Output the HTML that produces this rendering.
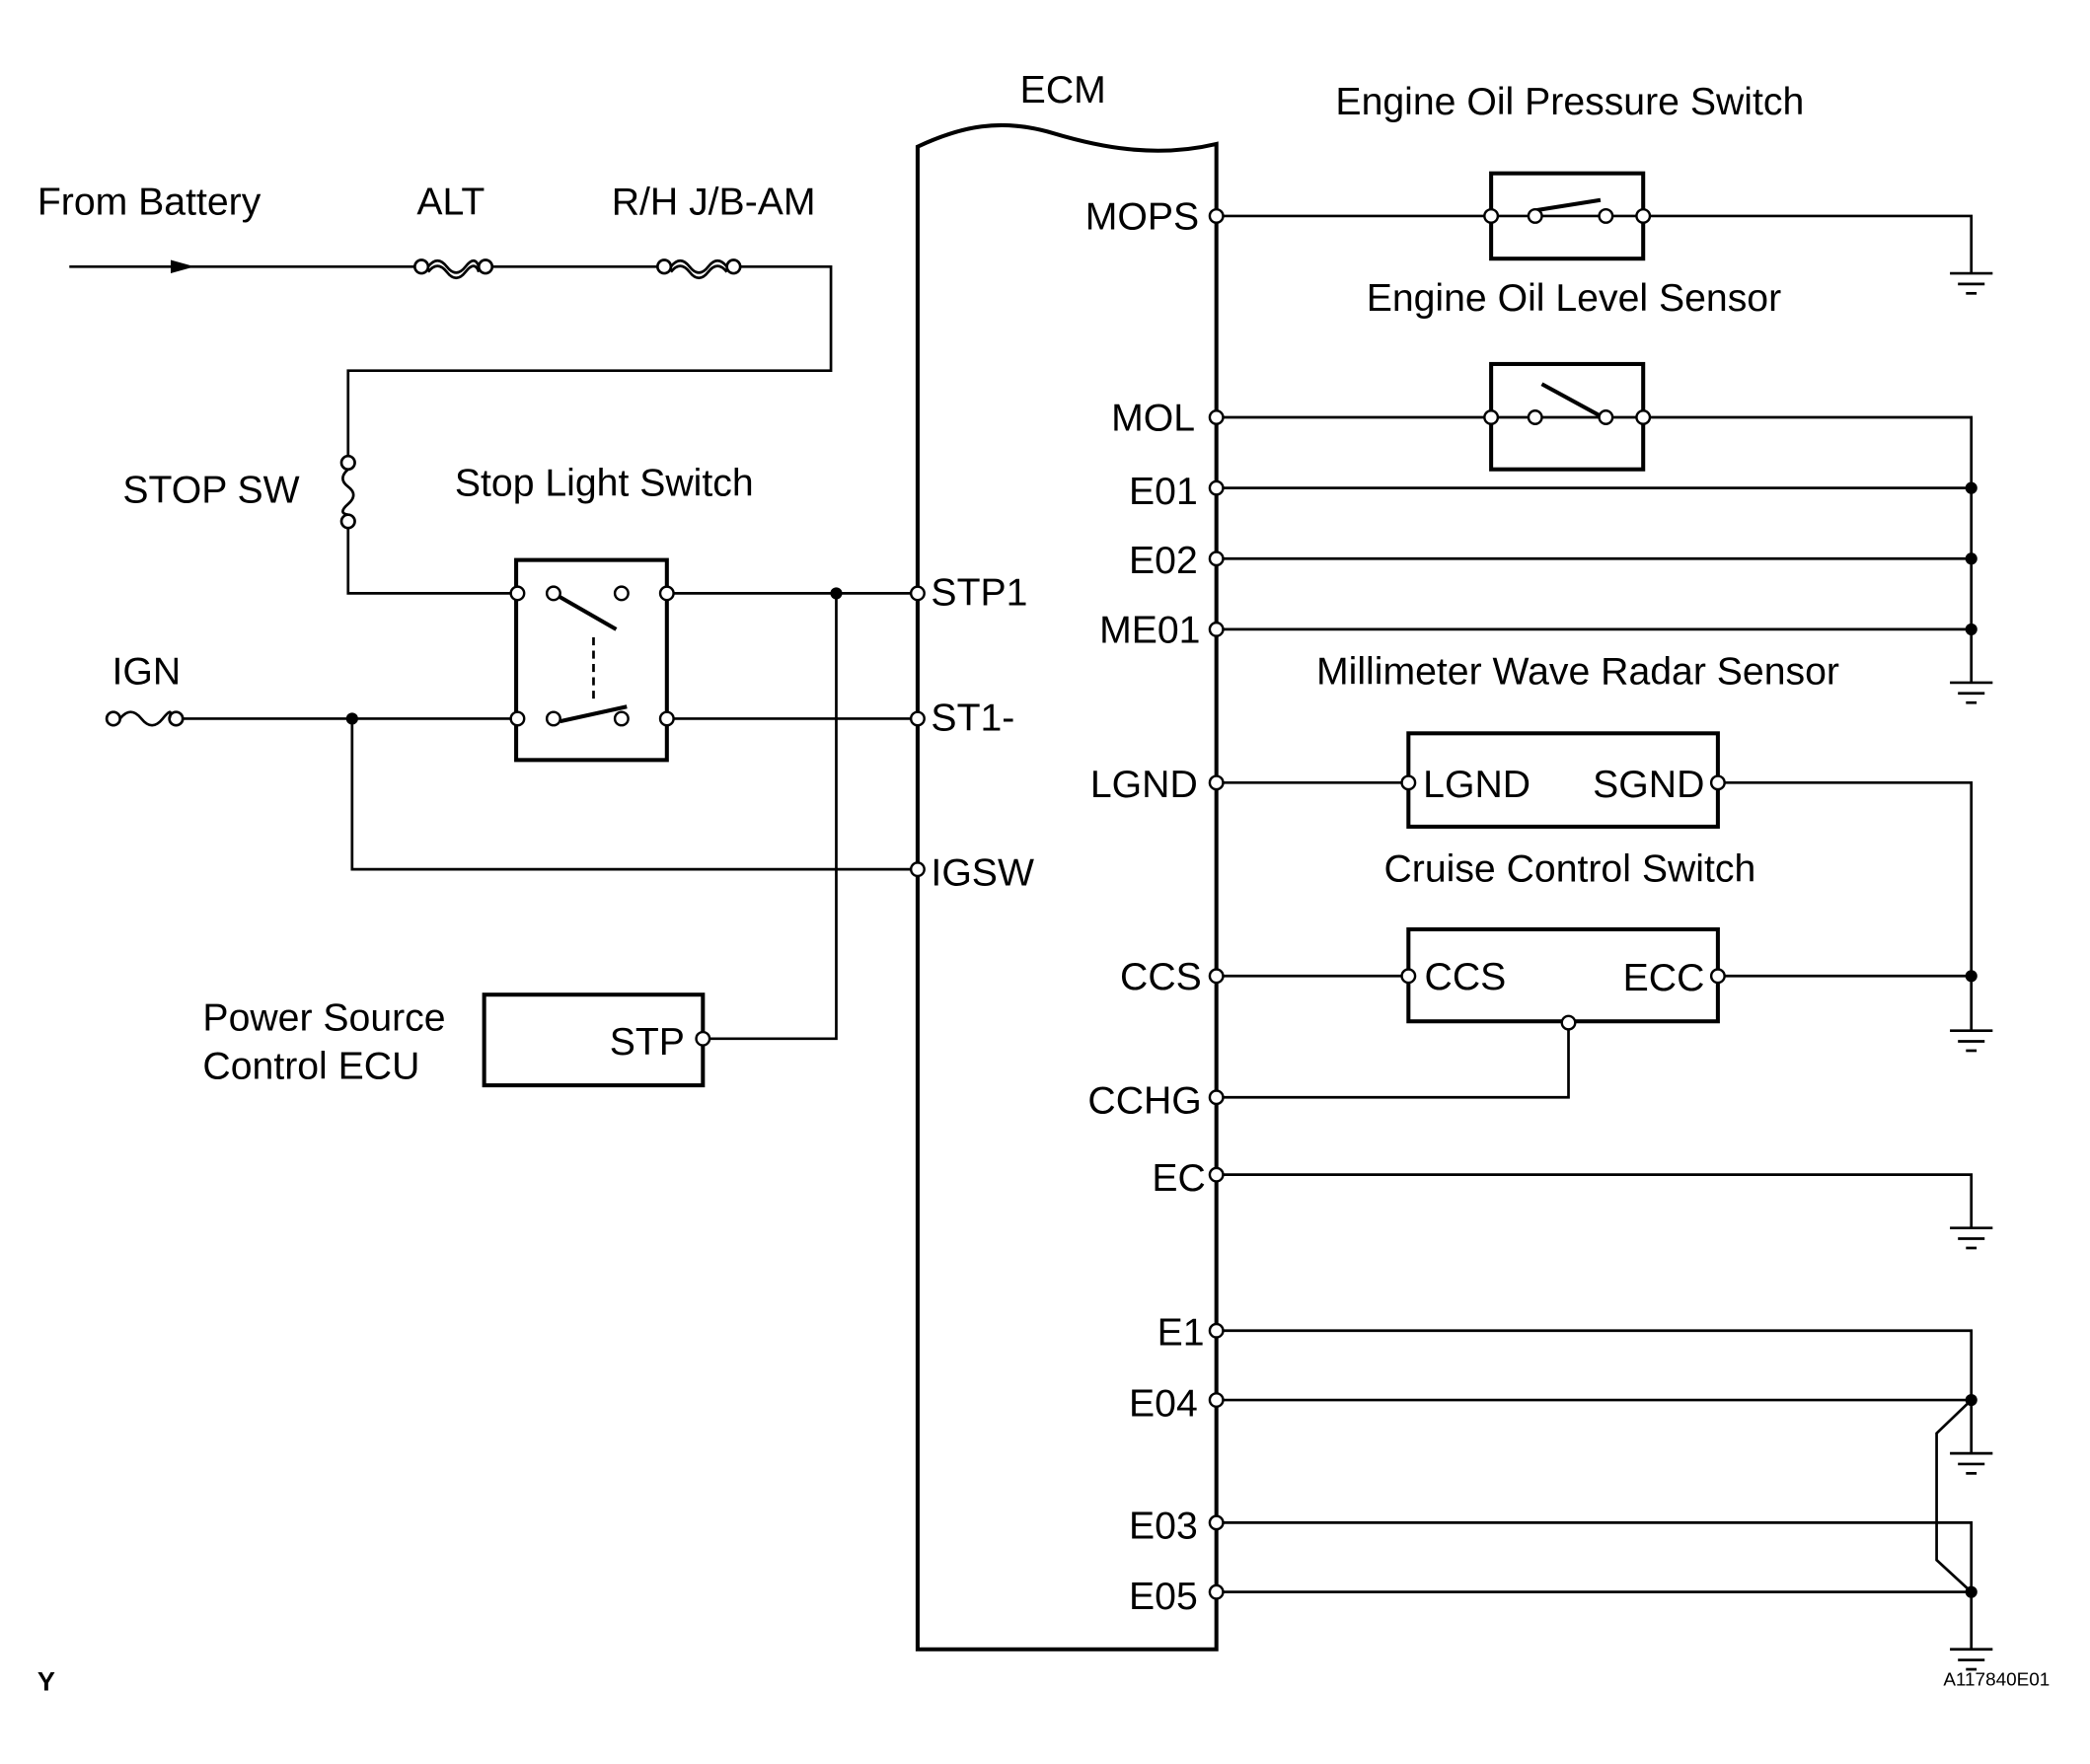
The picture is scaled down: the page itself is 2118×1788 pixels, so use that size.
<!DOCTYPE html>
<html><head><meta charset="utf-8"><style>
html,body{margin:0;padding:0;background:#fff;}
svg{display:block;}
text{font-family:"Liberation Sans",Arial,sans-serif;font-size:29px;fill:#000;}
</style></head><body>
<svg width="2118" height="1788" viewBox="0 0 1567 1323" preserveAspectRatio="none" xmlns="http://www.w3.org/2000/svg">
<defs>
<g id="gnd"><line x1="-16" y1="0" x2="16" y2="0" stroke="#000" stroke-width="2"/><line x1="-10" y1="8" x2="10" y2="8" stroke="#000" stroke-width="2"/><line x1="-4" y1="15" x2="4" y2="15" stroke="#000" stroke-width="2"/></g>
</defs>
<g fill="none" stroke="#000" stroke-width="2">
<path d="M688,1237 V110 C720,95 750,88 790,100 C830,112 870,118 912,108 V1237 Z" stroke-width="3"/>
<line x1="52" y1="200" x2="316" y2="200"/>
<line x1="364" y1="200" x2="498" y2="200"/>
<polyline points="550,200 623,200 623,278 261,278 261,342"/>
<polyline points="261,392 261,445 388,445"/>
<circle cx="316" cy="200" r="5" fill="#fff"/><circle cx="364" cy="200" r="5" fill="#fff"/>
<path d="M321,200 q7,-9 14,0 t14,0 t10,0"/><path d="M321,204 q7,-9 14,0 t14,0 t10,0"/>
<circle cx="498" cy="200" r="5" fill="#fff"/><circle cx="550" cy="200" r="5" fill="#fff"/>
<path d="M503,200 q7,-9 14,0 t14,0 t14,0"/><path d="M503,204 q7,-9 14,0 t14,0 t14,0"/>
<circle cx="261" cy="347" r="5" fill="#fff"/><circle cx="261" cy="391" r="5" fill="#fff"/>
<path d="M261,352 q-8,7 0,13 t0,13 t0,8"/>
<circle cx="85" cy="539" r="5" fill="#fff"/><circle cx="132" cy="539" r="5" fill="#fff"/>
<path d="M90,539 q8,-10 16,0 t16,0 t5,0"/>
<rect x="387" y="420" width="113" height="150" stroke-width="3"/>
<line x1="415" y1="445" x2="462" y2="472" stroke-width="3"/>
<line x1="420" y1="541" x2="470" y2="530" stroke-width="3"/>
<line x1="445" y1="478" x2="445" y2="527" stroke-dasharray="6,4"/>
<line x1="500" y1="445" x2="688" y2="445"/>
<line x1="137" y1="539" x2="388" y2="539"/>
<line x1="500" y1="539" x2="688" y2="539"/>
<polyline points="264,539 264,652 688,652"/>
<polyline points="627,445 627,779 527,779"/>
<rect x="363" y="746" width="164" height="68" stroke-width="3"/>
<polyline points="912,162 1478,162 1478,205"/>
<rect x="1118" y="130" width="114" height="64" stroke-width="3"/>
<line x1="1150" y1="158" x2="1200" y2="150" stroke-width="3"/>
<polyline points="912,313 1478,313 1478,512"/>
<rect x="1118" y="273" width="114" height="79" stroke-width="3"/>
<line x1="1156" y1="288" x2="1200" y2="312" stroke-width="3"/>
<line x1="912" y1="366" x2="1478" y2="366"/>
<line x1="912" y1="419" x2="1478" y2="419"/>
<line x1="912" y1="472" x2="1478" y2="472"/>
<line x1="912" y1="587" x2="1056" y2="587"/>
<rect x="1056" y="550" width="232" height="70" stroke-width="3"/>
<polyline points="1288,587 1478,587 1478,773"/>
<line x1="912" y1="732" x2="1056" y2="732"/>
<rect x="1056" y="697" width="232" height="69" stroke-width="3"/>
<line x1="1288" y1="732" x2="1478" y2="732"/>
<polyline points="1176,767 1176,823 912,823"/>
<polyline points="912,881 1478,881 1478,921"/>
<polyline points="912,998 1478,998 1478,1090"/>
<line x1="912" y1="1050" x2="1478" y2="1050"/>
<polyline points="1478,1050 1452,1075 1452,1170 1478,1194"/>
<polyline points="912,1142 1478,1142 1478,1237"/>
<line x1="912" y1="1194" x2="1478" y2="1194"/>
</g>
<polygon points="128,195 146,200 128,205" fill="#000"/>
<g fill="#000">
<circle cx="627" cy="445" r="4.5"/><circle cx="264" cy="539" r="4.5"/>
<circle cx="1478" cy="366" r="4.5"/><circle cx="1478" cy="419" r="4.5"/><circle cx="1478" cy="472" r="4.5"/>
<circle cx="1478" cy="732" r="4.5"/><circle cx="1478" cy="1050" r="4.5"/><circle cx="1478" cy="1194" r="4.5"/>
</g>
<g fill="#fff" stroke="#000" stroke-width="1.8">
<circle cx="388" cy="445" r="5"/><circle cx="415" cy="445" r="5"/><circle cx="466" cy="445" r="5"/><circle cx="500" cy="445" r="5"/>
<circle cx="388" cy="539" r="5"/><circle cx="415" cy="539" r="5"/><circle cx="466" cy="539" r="5"/><circle cx="500" cy="539" r="5"/>
<circle cx="688" cy="445" r="5"/><circle cx="688" cy="539" r="5"/><circle cx="688" cy="652" r="5"/>
<circle cx="527" cy="779" r="5"/>
<circle cx="912" cy="162" r="5"/><circle cx="912" cy="313" r="5"/><circle cx="912" cy="366" r="5"/><circle cx="912" cy="419" r="5"/><circle cx="912" cy="472" r="5"/><circle cx="912" cy="587" r="5"/><circle cx="912" cy="732" r="5"/><circle cx="912" cy="823" r="5"/><circle cx="912" cy="881" r="5"/><circle cx="912" cy="998" r="5"/><circle cx="912" cy="1050" r="5"/><circle cx="912" cy="1142" r="5"/><circle cx="912" cy="1194" r="5"/>
<circle cx="1118" cy="162" r="5"/><circle cx="1151" cy="162" r="5"/><circle cx="1204" cy="162" r="5"/><circle cx="1232" cy="162" r="5"/>
<circle cx="1118" cy="313" r="5"/><circle cx="1151" cy="313" r="5"/><circle cx="1204" cy="313" r="5"/><circle cx="1232" cy="313" r="5"/>
<circle cx="1056" cy="587" r="5"/><circle cx="1288" cy="587" r="5"/>
<circle cx="1056" cy="732" r="5"/><circle cx="1288" cy="732" r="5"/><circle cx="1176" cy="767" r="5"/>
</g>
<use href="#gnd" x="1478" y="205"/><use href="#gnd" x="1478" y="512"/><use href="#gnd" x="1478" y="773"/>
<use href="#gnd" x="1478" y="921"/><use href="#gnd" x="1478" y="1090"/><use href="#gnd" x="1478" y="1237"/>
<text x="797" y="77" text-anchor="middle">ECM</text>
<text x="1177" y="86" text-anchor="middle">Engine Oil Pressure Switch</text>
<text x="1180" y="233" text-anchor="middle">Engine Oil Level Sensor</text>
<text x="1183" y="513" text-anchor="middle">Millimeter Wave Radar Sensor</text>
<text x="1177" y="661" text-anchor="middle">Cruise Control Switch</text>
<text x="28" y="161">From Battery</text>
<text x="338" y="161" text-anchor="middle">ALT</text>
<text x="535" y="161" text-anchor="middle">R/H J/B-AM</text>
<text x="92" y="377">STOP SW</text>
<text x="453" y="372" text-anchor="middle">Stop Light Switch</text>
<text x="84" y="513">IGN</text>
<text x="152" y="773">Power Source</text>
<text x="152" y="809">Control ECU</text>
<text x="457" y="791">STP</text>
<text x="698" y="454">STP1</text>
<text x="698" y="548">ST1-</text>
<text x="698" y="664">IGSW</text>
<g text-anchor="end">
<text x="899" y="172">MOPS</text><text x="896" y="323">MOL</text><text x="898" y="378">E01</text><text x="898" y="430">E02</text><text x="900" y="482">ME01</text><text x="898" y="598">LGND</text><text x="901" y="742">CCS</text><text x="901" y="835">CCHG</text><text x="904" y="893">EC</text><text x="903" y="1009">E1</text><text x="898" y="1062">E04</text><text x="898" y="1154">E03</text><text x="898" y="1207">E05</text>
<text x="1278" y="598">SGND</text><text x="1278" y="743">ECC</text>
</g>
<text x="1067" y="598">LGND</text>
<text x="1068" y="742">CCS</text>
<text x="28" y="1268" style="font-weight:bold;font-size:20px">Y</text>
<text x="1457" y="1264" style="font-size:14px">A117840E01</text>
</svg>
</body></html>
